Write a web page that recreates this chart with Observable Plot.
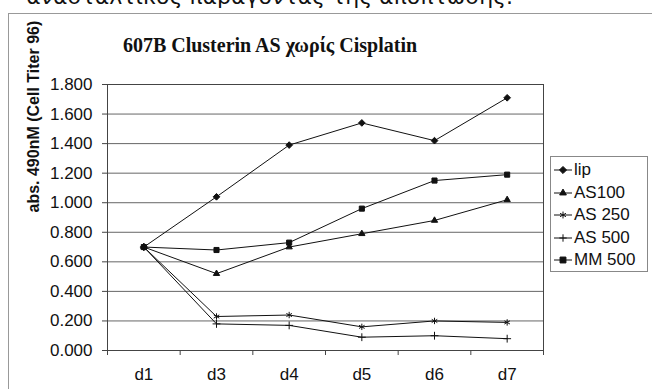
<!DOCTYPE html>
<html>
<head>
<meta charset="utf-8">
<script src="https://cdn.jsdelivr.net/npm/d3@7"></script>
<script src="https://cdn.jsdelivr.net/npm/@observablehq/plot@0.6"></script>
<style>
  body { margin: 0; background: #fff; }
  #chart { position: relative; width: 652px; height: 389px; overflow: hidden; background: #fff;
           font-family: "Liberation Sans", Arial, sans-serif; color: #111; }
  #chart svg.plot { position: absolute; left: 0; top: 0; }
  #prev { position: absolute; right: 139px; top: -16px; font: 22px "DejaVu Sans", sans-serif; white-space: nowrap; color: #111; }
  #box { position: absolute; left: 8px; top: 13px; width: 700px; height: 420px;
         border-left: 1px solid #999; border-top: 1px solid #999; }
  #title { position: absolute; left: 0; width: 540px; top: 34px; text-align: center;
           font: bold 20px "Liberation Serif", "Times New Roman", serif; color: #111; }
  #legend { position: absolute; left: 550px; top: 156px; width: 98px; height: 116px; box-sizing: border-box;
            border: 1px solid #888; background: #fff; padding: 2px 0 0 2px; }
  #legend .row { display: flex; align-items: center; height: 22.5px; font-size: 17px; white-space: nowrap; }
  #legend svg { flex: none; margin-right: 1px; }
</style>
</head>
<body>
<div id="chart">
  <div id="prev">ανασταλτικός παράγοντας της απόπτωσης.</div>
  <div id="box"></div>
  <div id="title">607B Clusterin AS χωρίς Cisplatin</div>
  <div id="legend"></div>
</div>
<script>
// Measurement days (category axis)
const days = ["d1", "d3", "d4", "d5", "d6", "d7"];

// Absorbance at 490nM per treatment
const lip   = [0.70, 1.04, 1.39, 1.54, 1.42, 1.71];
const as100 = [0.70, 0.52, 0.70, 0.79, 0.88, 1.02];
const as250 = [0.70, 0.23, 0.24, 0.16, 0.20, 0.19];
const as500 = [0.70, 0.18, 0.17, 0.09, 0.10, 0.08];
const mm500 = [0.70, 0.68, 0.73, 0.96, 1.15, 1.19];

const seriesNames = ["lip", "AS100", "AS 250", "AS 500", "MM 500"];
const seriesValues = [lip, as100, as250, as500, mm500];

// Y tick values
const yTicks = [0, 0.2, 0.4, 0.6, 0.8, 1.0, 1.2, 1.4, 1.6, 1.8];

// Marker look for each series
const symbols = ["diamond2", "triangle2", "asterisk", "plus", "square2"];
const markerR = {"lip": 3.6, "AS100": 3.6, "AS 250": 3.6, "AS 500": 2.8, "MM 500": 4.2};

const rows = seriesNames.flatMap((name, s) =>
  days.map((day, i) => ({series: name, day, pos: i + 0.5, value: seriesValues[s][i]}))
);

const ink = "#111";

const chart = Plot.plot({
  width: 652,
  height: 389,
  marginLeft: 107,
  marginRight: 109,
  marginTop: 84,
  marginBottom: 39,
  style: {fontFamily: "'Liberation Sans', Arial, sans-serif", fontSize: "17px", background: "transparent", color: ink},
  x: {type: "linear", domain: [0, days.length]},
  y: {domain: [0, 1.8]},
  symbol: {domain: seriesNames, range: symbols},
  marks: [
    Plot.gridY(yTicks, {stroke: "#666", strokeOpacity: 1, strokeWidth: 1}),
    Plot.frame({stroke: "#444"}),
    Plot.axisY(yTicks, {tickFormat: d3.format(".3f"), tickSize: 5, tickPadding: 10, label: null, stroke: "#444"}),
    Plot.axisX(d3.range(days.length + 1), {tickFormat: () => "", tickSize: 5, label: null, stroke: "#444"}),
    Plot.axisX(days.map((d, i) => i + 0.5), {tickFormat: v => days[Math.floor(v)], tickSize: 0, tickPadding: 17, label: null}),
    Plot.text(["abs. 490nM (Cell Titer 96)"], {frameAnchor: "left", rotate: -90, dx: -74, dy: -5,
      fontWeight: "bold", fontSize: 16, fill: ink}),
    Plot.line(rows, {x: "pos", y: "value", z: "series", stroke: ink, strokeWidth: 1}),
    Plot.dot(rows, {x: "pos", y: "value", symbol: "series", r: d => markerR[d.series],
      fill: ink, stroke: ink, strokeWidth: 1})
  ]
});
chart.classList.add("plot");
document.getElementById("chart").insertBefore(chart, document.getElementById("title"));

// Legend: line sample with marker, then the series name
const legend = d3.select("#legend");
seriesNames.forEach((name, i) => {
  const row = legend.append("div").attr("class", "row");
  const svg = row.append("svg").attr("width", 20).attr("height", 12);
  svg.append("line").attr("x1", 1).attr("x2", 19).attr("y1", 6).attr("y2", 6)
    .attr("stroke", ink).attr("stroke-width", 1);
  const r = markerR[name];
  const type = {diamond2: d3.symbolDiamond2, triangle2: d3.symbolTriangle2, asterisk: d3.symbolAsterisk,
                plus: d3.symbolPlus, square2: d3.symbolSquare2}[symbols[i]];
  svg.append("path").attr("transform", "translate(10,6)")
    .attr("d", d3.symbol(type, Math.PI * r * r * 0.8)())
    .attr("fill", ink).attr("stroke", ink).attr("stroke-width", 1);
  row.append("span").text(name);
});
</script>
</body>
</html>
